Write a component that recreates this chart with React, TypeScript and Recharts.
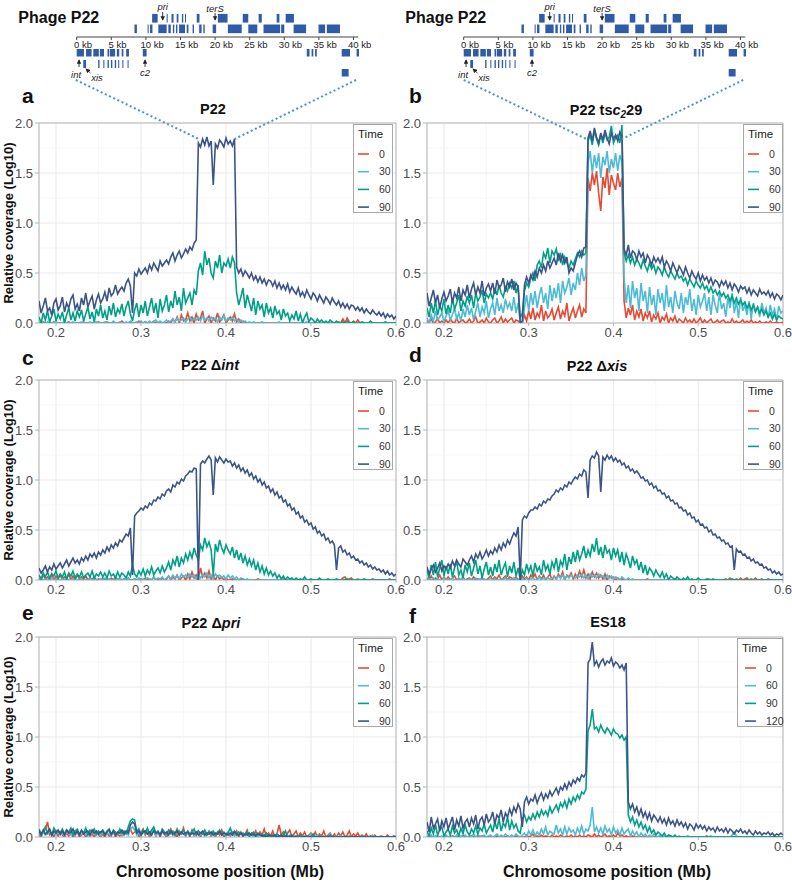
import React from "react";
import {
  LineChart,
  ComposedChart,
  Line,
  XAxis,
  YAxis,
  CartesianGrid,
  ReferenceArea,
  ReferenceLine,
} from "recharts";

const FONT = '"Liberation Sans", Arial, Helvetica, sans-serif';
const COLORS = ["#E64B35", "#4DBBD5", "#00A087", "#3C5488"];
const ZOOM_BLUE = "#4A90D9";
const GENE_BLUE = "#2F5BA7";

// chromosome position (Mb), shared by every coverage track
const POS = [
  0.18, 0.1825, 0.185, 0.1875, 0.19, 0.1925, 0.195, 0.1975, 0.2, 0.2025,
  0.205, 0.2075, 0.21, 0.2125, 0.215, 0.2175, 0.22, 0.2225, 0.225, 0.2275,
  0.23, 0.2325, 0.235, 0.2375, 0.24, 0.2425, 0.245, 0.2475, 0.25, 0.2525,
  0.255, 0.2575, 0.26, 0.2625, 0.265, 0.2675, 0.27, 0.2725, 0.275, 0.2775,
  0.28, 0.2825, 0.285, 0.2875, 0.29, 0.2925, 0.295, 0.2975, 0.3, 0.3025,
  0.305, 0.3075, 0.31, 0.3125, 0.315, 0.3175, 0.32, 0.3225, 0.325, 0.3275,
  0.33, 0.3325, 0.335, 0.3375, 0.34, 0.3425, 0.345, 0.3475, 0.35, 0.3525,
  0.355, 0.3575, 0.36, 0.3625, 0.365, 0.3675, 0.37, 0.3725, 0.375, 0.3775,
  0.38, 0.3825, 0.385, 0.3875, 0.39, 0.3925, 0.395, 0.3975, 0.4, 0.4025,
  0.405, 0.4075, 0.41, 0.4125, 0.415, 0.4175, 0.42, 0.4225, 0.425, 0.4275,
  0.43, 0.4325, 0.435, 0.4375, 0.44, 0.4425, 0.445, 0.4475, 0.45, 0.4525,
  0.455, 0.4575, 0.46, 0.4625, 0.465, 0.4675, 0.47, 0.4725, 0.475, 0.4775,
  0.48, 0.4825, 0.485, 0.4875, 0.49, 0.4925, 0.495, 0.4975, 0.5, 0.5025,
  0.505, 0.5075, 0.51, 0.5125, 0.515, 0.5175, 0.52, 0.5225, 0.525, 0.5275,
  0.53, 0.5325, 0.535, 0.5375, 0.54, 0.5425, 0.545, 0.5475, 0.55, 0.5525,
  0.555, 0.5575, 0.56, 0.5625, 0.565, 0.5675, 0.57, 0.5725, 0.575, 0.5775,
  0.58, 0.5825, 0.585, 0.5875, 0.59, 0.5925, 0.595, 0.5975, 0.6,
];

const X_TICKS = [0.2, 0.3, 0.4, 0.5, 0.6];
const X_MINOR = [0.25, 0.35, 0.45, 0.55];
const Y_TICKS = [0, 0.5, 1, 1.5, 2];
const Y_MINOR = [0.25, 0.75, 1.25, 1.75];

const TIMES_P22 = ["0", "30", "60", "90"];
const TIMES_ES18 = ["0", "60", "90", "120"];

// a: P22
const A_T0 = [
  0, 0, .01, 0, 0, 0, 0, .01, 0, 0,
  0, 0, 0, 0, .01, 0, 0, 0, 0, 0,
  0, .01, 0, 0, 0, 0, 0, 0, .01, 0,
  0, 0, .01, 0, 0, 0, 0, 0, 0, .02,
  0, 0, 0, .01, 0, 0, 0, .02, 0, 0,
  .01, 0, 0, 0, .02, 0, 0, .01, 0, 0,
  0, .02, 0, .04, .01, .06, 0, .08, .02, .03,
  .1, .02, .06, 0, .09, .03, .05, .12, 0, .04,
  .07, 0, .05, .02, .1, .01, .04, .08, 0, .03,
  .06, .02, .09, .01, .04, 0, .02, 0, 0, 0,
  0, 0, 0, 0, 0, 0, 0, 0, 0, 0,
  0, 0, 0, 0, 0, 0, 0, 0, 0, 0,
  0, 0, 0, 0, 0, 0, 0, 0, 0, 0,
  0, 0, 0, 0, 0, 0, 0, 0, 0, 0,
  0, .01, 0, .04, 0, .05, .01, 0, .02, 0,
  .03, 0, 0, 0, 0, 0, 0, 0, 0, 0,
  0, 0, 0, 0, 0, 0, 0, 0, 0,
];
const A_T30 = [
  0, .01, 0, 0, .01, 0, 0, 0, .01, 0,
  0, 0, .01, 0, 0, 0, .01, 0, 0, 0,
  .01, 0, 0, 0, .01, 0, 0, .01, 0, 0,
  0, .01, 0, 0, 0, .02, 0, 0, .01, 0,
  0, .01, 0, .02, 0, 0, .01, 0, .02, 0,
  .01, 0, .02, 0, .01, .03, 0, .02, 0, .01,
  .03, 0, .02, .04, .01, .05, .02, .03, .05, .01,
  .04, .06, .02, .05, .03, .06, .02, .07, .03, .05,
  .02, .06, .03, .05, .01, .06, .03, .07, .02, .05,
  .03, .06, .02, .04, .01, .03, 0, .02, 0, .01,
  0, .01, 0, 0, 0, .01, 0, 0, 0, 0,
  0, 0, 0, .01, 0, 0, 0, 0, 0, 0,
  0, 0, 0, 0, 0, 0, .01, 0, 0, 0,
  0, 0, 0, 0, 0, 0, 0, 0, 0, 0,
  0, 0, 0, 0, 0, 0, 0, 0, 0, 0,
  0, 0, 0, 0, 0, 0, 0, 0, 0, 0,
  0, 0, 0, 0, 0, 0, 0, 0, 0,
];
const A_T60 = [
  .06, 0, .1, .03, .12, .01, .07, .14, .02, .09,
  .04, .11, 0, .08, .15, .03, .1, .02, .12, .06,
  .13, .02, .09, .16, .04, .11, .01, .14, .07, .18,
  .05, .12, .03, .17, .08, .2, .06, .14, .1, .19,
  .07, .16, .22, .09, .02, .13, .2, .06, .18, .1,
  .22, .07, .16, .25, .1, .2, .05, .24, .12, .18,
  .28, .11, .22, .15, .32, .18, .26, .12, .35, .2,
  .25, .3, .18, .33, .28, .52, .6, .48, .72, .58,
  .65, .5, .45, .62, .55, .68, .5, .6, .57, .64,
  .55, .66, .6, .3, .18, .26, .35, .15, .28, .2,
  .12, .25, .08, .22, .14, .18, .06, .2, .1, .15,
  .05, .17, .09, .12, .03, .14, .07, .1, .02, .08,
  .04, .12, .02, .09, 0, .06, .1, .01, .05, .03,
  0, .04, .01, .03, 0, .02, 0, .03, .01, 0,
  .02, 0, 0, .01, 0, .02, 0, 0, .01, 0,
  0, 0, .01, 0, 0, 0, .02, 0, 0, 0,
  0, 0, 0, .01, 0, 0, 0, 0, 0,
];
const A_T90 = [
  .22, .1, .17, .25, .12, .15, .08, .2, .24, .13,
  .17, .26, .11, .2, .15, .24, .28, .14, .19, .12,
  .25, .18, .3, .16, .22, .27, .14, .23, .29, .2,
  .24, .31, .22, .35, .27, .3, .38, .29, .33, .36,
  .32, .4, .44, .37, .1, .5, .47, .54, .49, .52,
  .55, .5, .58, .53, .6, .56, .52, .62, .57, .6,
  .63, .59, .66, .7, .62, .68, .72, .65, .69, .74,
  .7, .76, .73, .8, .83, 1.8, 1.76, 1.84, 1.78, 1.86,
  1.77, 1.82, 1.38, 1.79, 1.75, 1.83, 1.8, 1.76, 1.85, 1.79,
  1.82, 1.77, 1.84, .56, .5, .54, .47, .52, .49, .45,
  .5, .43, .47, .41, .46, .4, .44, .38, .43, .42,
  .37, .42, .35, .4, .34, .38, .33, .39, .31, .36,
  .32, .29, .35, .27, .31, .26, .33, .28, .24, .3,
  .27, .22, .28, .24, .2, .26, .23, .19, .25, .21,
  .18, .22, .16, .2, .15, .19, .14, .18, .17, .13,
  .16, .12, .15, .1, .14, .11, .09, .13, .1, .08,
  .11, .07, .1, .05, .09, .06, .08, .04, .07,
];

// b: P22 tsc2 29
const B_T0 = [
  .02, 0, .04, 0, .01, .05, 0, .02, 0, .03,
  0, .04, .01, 0, .05, 0, .02, .03, 0, .01,
  .04, 0, .02, .06, 0, .01, .03, 0, .05, .01,
  0, .03, .05, 0, .02, .06, 0, .04, .01, .03,
  .05, 0, .03, .02, 0, 0, .08, .02, .12, .04,
  .15, .03, .1, .06, .18, .02, .12, .05, .08, .14,
  .03, .1, .16, .04, .12, .07, .2, .02, .09, .15,
  .05, .12, .18, .06, .14, .1, 1.45, 1.32, 1.5, 1.38,
  1.52, 1.3, 1.12, 1.46, 1.35, 1.55, 1.28, 1.48, 1.4, 1.33,
  1.5, 1.36, 1.45, .22, .05, .15, .08, .18, .03, .12,
  .06, .14, .02, .1, .05, .12, .01, .08, .04, .1,
  0, .06, .03, .09, 0, .05, .02, .07, 0, .04,
  .02, 0, .05, .01, .03, 0, .04, 0, .02, .05,
  0, .03, 0, .02, .04, 0, .01, .03, 0, .02,
  .03, 0, .01, 0, .04, 0, .02, 0, .01, .03,
  0, .02, 0, .03, 0, .01, 0, .02, 0, 0,
  .01, 0, .02, 0, 0, .01, 0, 0, .01,
];
const B_T30 = [
  .05, 0, .08, .02, .12, .03, .06, .1, .01, .07,
  .12, .03, .08, .15, .04, .1, .02, .14, .06, .18,
  .08, .15, .03, .12, .2, .06, .16, .1, .22, .05,
  .14, .2, .08, .25, .12, .18, .1, .24, .15, .2,
  .12, .26, .1, .2, 0, 0, .15, .28, .12, .3,
  .18, .32, .15, .28, .36, .2, .3, .14, .38, .22,
  .35, .25, .4, .2, .42, .3, .36, .45, .28, .4,
  .33, .5, .38, .55, .42, .48, 1.6, 1.72, 1.5, 1.68,
  1.55, 1.7, 1.45, 1.66, 1.58, 1.72, 1.5, 1.64, 1.55, 1.7,
  1.52, 1.68, 1.6, .45, .2, .38, .15, .42, .25, .35,
  .12, .4, .22, .32, .1, .36, .18, .28, .08, .34,
  .2, .3, .12, .38, .16, .26, .1, .32, .2, .14,
  .3, .1, .26, .18, .34, .12, .24, .08, .28, .16,
  .22, .3, .12, .26, .08, .28, .18, .1, .3, .14,
  .2, .06, .25, .15, .3, .1, .22, .05, .26, .12,
  .18, .08, .22, .04, .2, .12, .16, .06, .2, .1,
  .15, .05, .18, .08, .14, .03, .17, .1, .12,
];
const B_T60 = [
  .15, .06, .2, .1, .22, .08, .17, .12, .24, .09,
  .18, .1, .25, .14, .2, .28, .12, .22, .17, .27,
  .2, .28, .15, .3, .22, .26, .33, .2, .29, .25,
  .3, .24, .35, .28, .38, .3, .26, .36, .32, .4,
  .35, .42, .3, .38, .05, .1, .32, .4, .36, .45,
  .5, .42, .58, .62, .55, .7, .65, .75, .6, .72,
  .68, .74, .62, .7, .58, .66, .6, .55, .62, .58,
  .64, .7, .66, .72, .68, .7, 1.82, 1.88, 1.78, 1.92,
  1.84, 1.78, 1.88, 1.8, 1.9, 1.83, 1.86, 1.97, 1.8, 1.85,
  1.88, 1.8, 1.98, .7, .62, .68, .6, .66, .58, .64,
  .6, .55, .63, .57, .52, .6, .54, .58, .5, .56,
  .53, .48, .56, .5, .46, .52, .48, .44, .5, .45,
  .47, .42, .45, .38, .44, .4, .36, .42, .38, .35,
  .4, .34, .37, .31, .36, .3, .33, .28, .32, .27,
  .3, .25, .28, .22, .27, .2, .25, .19, .23, .18,
  .21, .15, .19, .13, .18, .11, .16, .1, .14, .08,
  .12, .06, .1, .04, .09, .03, .07, .05, .04,
];
const B_T90 = [
  .3, .17, .25, .33, .2, .28, .15, .24, .31, .22,
  .27, .34, .2, .3, .25, .36, .22, .33, .28, .38,
  .25, .34, .4, .28, .36, .3, .42, .27, .35, .39,
  .32, .4, .29, .43, .35, .38, .45, .31, .41, .36,
  .44, .33, .4, .36, 0, .02, .38, .46, .4, .48,
  .43, .52, .46, .55, .5, .58, .52, .62, .55, .6,
  .65, .58, .7, .62, .68, .6, .66, .5, .55, .52,
  .6, .68, .72, .66, .75, .76, 1.85, 1.92, 1.82, 1.95,
  1.86, 1.8, 1.9, 1.83, 1.93, 1.85, 1.79, 1.9, 1.84, 1.88,
  1.82, 1.91, 1.87, .74, .68, .78, .65, .72, .7, .63,
  .72, .66, .7, .6, .68, .64, .58, .66, .61, .65,
  .6, .66, .56, .62, .58, .52, .6, .55, .5, .57,
  .53, .48, .56, .5, .45, .52, .47, .44, .5, .42,
  .48, .43, .46, .4, .45, .38, .43, .41, .36, .42,
  .38, .42, .35, .4, .33, .39, .36, .31, .37, .34,
  .36, .3, .35, .28, .33, .3, .27, .34, .29, .31,
  .28, .32, .26, .3, .24, .29, .27, .23, .28,
];

// c: P22 Δint
const C_T0 = [
  .02, 0, .05, .01, .03, 0, .06, 0, .04, .01,
  .05, 0, .03, .01, .06, 0, .04, 0, .05, .01,
  .03, 0, .04, 0, .02, .01, .03, 0, .01, 0,
  .02, 0, .01, 0, .02, 0, .03, 0, .02, 0,
  .01, 0, .02, 0, 0, .01, 0, 0, .01, 0,
  .02, 0, .01, 0, .03, 0, .01, 0, .02, 0,
  .01, .04, 0, .03, .01, .05, 0, .02, .04, 0,
  .06, .01, .08, .02, .05, 0, .12, .03, .07, .02,
  .09, .01, .05, 0, .04, .01, .03, 0, .02, 0,
  0, .01, 0, 0, 0, 0, .01, 0, 0, 0,
  0, 0, 0, .01, 0, 0, 0, 0, 0, 0,
  0, 0, 0, 0, 0, .01, 0, 0, 0, 0,
  0, 0, 0, 0, 0, 0, 0, 0, 0, 0,
  0, 0, .01, 0, 0, 0, 0, 0, 0, 0,
  0, 0, 0, .02, .03, 0, .01, .02, 0, 0,
  .01, 0, 0, 0, 0, 0, 0, .01, 0, 0,
  0, 0, 0, 0, 0, .01, 0, 0, 0,
];
const C_T30 = [
  0, .02, 0, .01, 0, 0, .02, 0, .01, 0,
  0, .01, 0, .02, 0, 0, .01, 0, 0, .02,
  0, .01, 0, 0, .02, 0, .01, 0, 0, .01,
  0, .02, 0, .01, 0, 0, .01, 0, .02, 0,
  .01, 0, .02, 0, 0, .01, 0, .02, 0, .01,
  0, .02, .01, 0, .03, 0, .02, .01, .03, 0,
  .02, .04, .01, .05, .02, .04, .01, .06, .03, .05,
  .02, .06, .03, .05, .01, .06, .02, .05, .03, .07,
  .02, .05, .01, .06, .03, .05, .02, .04, .01, .05,
  .02, .04, .01, .03, 0, .02, .01, 0, .01, 0,
  0, 0, 0, 0, 0, 0, 0, 0, 0, 0,
  0, 0, 0, 0, 0, 0, 0, 0, 0, 0,
  0, 0, 0, 0, 0, 0, 0, 0, 0, 0,
  0, 0, 0, 0, 0, 0, 0, 0, 0, 0,
  0, 0, 0, 0, 0, 0, 0, 0, 0, 0,
  0, 0, 0, 0, 0, 0, 0, 0, 0, 0,
  0, 0, 0, 0, 0, 0, 0, 0, 0,
];
const C_T60 = [
  .05, .01, .07, .03, .08, .02, .06, .04, .09, .02,
  .06, .03, .08, .01, .07, .04, .09, .02, .06, .03,
  .08, .02, .05, .07, .03, .09, .02, .06, .04, .08,
  .03, .07, .02, .09, .04, .06, .02, .08, .03, .07,
  .05, .02, .08, .04, .15, .06, .03, .09, .05, .11,
  .04, .1, .06, .13, .05, .09, .12, .07, .14, .08,
  .12, .18, .1, .2, .15, .24, .13, .22, .17, .26,
  .2, .28, .22, .32, .25, .2, .35, .3, .42, .33,
  .38, .3, .05, .36, .28, .4, .32, .27, .35, .3,
  .26, .33, .22, .3, .2, .27, .17, .24, .15, .21,
  .14, .2, .1, .17, .08, .14, .06, .12, .05, .09,
  .04, .07, .02, .05, .01, .04, 0, .03, .01, .02,
  0, .02, 0, .01, 0, .03, 0, 0, .01, 0,
  0, 0, .02, 0, 0, 0, .01, 0, 0, 0,
  .01, 0, 0, 0, 0, .01, 0, 0, 0, 0,
  0, 0, 0, .01, 0, 0, 0, 0, 0, 0,
  0, 0, 0, 0, 0, 0, 0, 0, 0,
];
const C_T90 = [
  .12, .07, .1, .14, .08, .13, .1, .16, .11, .14,
  .17, .12, .16, .2, .14, .18, .22, .17, .2, .16,
  .22, .19, .24, .2, .26, .23, .27, .22, .28, .25,
  .3, .27, .33, .29, .35, .32, .37, .34, .4, .38,
  .42, .46, .44, .52, .05, .64, .67, .69, .72, .7,
  .74, .72, .77, .75, .8, .79, .83, .81, .86, .84,
  .89, .91, .88, .95, .93, .98, .96, 1.01, .99, 1.04,
  1.06, 1.09, 1.08, 1.12, 1.11, 0, 1.16, 1.19, 1.17, 1.21,
  1.24, 1.2, .85, 1.22, 1.18, 1.23, 1.2, 1.17, 1.21, 1.18,
  1.19, 1.14, 1.17, 1.12, 1.15, 1.09, 1.12, 1.07, 1.1, 1.04,
  1.07, 1.01, 1.04, .98, 1.01, .95, .98, .92, .94, .88,
  .91, .85, .88, .82, .84, .78, .8, .74, .76, .7,
  .72, .66, .68, .62, .64, .58, .6, .55, .57, .51,
  .53, .47, .49, .44, .46, .4, .42, .37, .39, .35,
  .1, .32, .34, .28, .3, .25, .27, .22, .24, .2,
  .21, .17, .19, .15, .17, .13, .15, .11, .13, .1,
  .11, .08, .1, .06, .09, .05, .07, .04, .06,
];

// d: P22 Δxis
const D_T0 = [
  .02, 0, .04, 0, .02, .01, .05, 0, .03, 0,
  .03, 0, .02, .04, 0, .02, 0, .03, 0, .01,
  .02, 0, .03, 0, .01, 0, .02, 0, 0, .02,
  .04, 0, .03, .01, .05, 0, .02, .04, 0, .03,
  .02, 0, .03, 0, 0, .04, .01, .03, 0, .05,
  .02, .06, 0, .04, .01, .05, 0, .03, .06, 0,
  .04, .01, .06, .02, .08, 0, .05, .03, .07, .01,
  .06, .02, .09, .03, .1, .02, .06, .01, .08, .03,
  .07, .02, .05, .01, .06, 0, .04, .02, .03, 0,
  .02, 0, .01, 0, 0, .01, 0, 0, 0, 0,
  0, 0, 0, 0, .01, 0, 0, 0, 0, 0,
  0, 0, 0, 0, 0, 0, 0, .01, 0, 0,
  0, 0, 0, 0, 0, 0, 0, 0, 0, 0,
  0, 0, 0, .01, 0, 0, 0, 0, 0, 0,
  0, .01, 0, .02, 0, 0, .01, 0, .02, 0,
  .01, .02, 0, .01, 0, .02, 0, 0, .01, 0,
  0, .01, 0, 0, 0, 0, 0, 0, 0,
];
const D_T30 = [
  0, .01, 0, .02, 0, .01, 0, 0, .02, 0,
  .01, 0, .02, 0, 0, .01, 0, .02, 0, 0,
  .01, 0, 0, .02, 0, .01, 0, .01, 0, 0,
  .02, 0, .01, 0, 0, .01, 0, .02, 0, .01,
  0, .02, 0, .01, 0, .01, 0, .02, 0, .01,
  .02, 0, .01, .03, 0, .02, .01, .03, 0, .02,
  .03, .01, .04, .02, .05, .01, .04, .02, .05, .03,
  .02, .05, .03, .06, .02, .05, .01, .06, .03, .05,
  .02, .06, .03, .04, .01, .05, .02, .04, .01, .03,
  .02, 0, .03, .01, 0, .02, 0, .01, 0, 0,
  0, 0, 0, 0, 0, 0, 0, 0, 0, 0,
  0, 0, 0, 0, 0, 0, 0, 0, 0, 0,
  0, 0, 0, 0, 0, 0, 0, 0, 0, 0,
  0, 0, 0, 0, 0, 0, 0, 0, 0, 0,
  0, 0, 0, 0, 0, 0, 0, 0, 0, 0,
  0, 0, 0, 0, 0, 0, 0, 0, 0, 0,
  0, 0, 0, 0, 0, 0, 0, 0, 0,
];
const D_T60 = [
  .1, .02, .15, .05, .18, .03, .12, .2, .04, .14,
  .06, .16, .03, .12, .19, .05, .1, .02, .15, .08,
  .17, .04, .12, .2, .06, .14, .02, .11, .18, .05,
  .13, .04, .16, .08, .2, .05, .12, .17, .03, .14,
  .07, .18, .04, .12, 0, .1, .05, .16, .08, .14,
  .04, .17, .09, .13, .05, .2, .1, .15, .06, .18,
  .12, .22, .08, .19, .14, .26, .1, .23, .16, .28,
  .18, .3, .2, .26, .34, .22, .3, .24, .36, .28,
  .42, .25, .33, .22, .35, .27, .3, .2, .32, .24,
  .3, .18, .28, .15, .26, .2, .12, .24, .16, .2,
  .1, .18, .07, .15, .05, .12, .09, .04, .1, .06,
  .03, .08, .02, .06, 0, .04, .02, 0, .03, .01,
  0, .02, 0, .03, 0, .01, 0, 0, .02, 0,
  0, 0, .01, 0, 0, .01, 0, 0, 0, 0,
  0, 0, 0, 0, .01, 0, 0, 0, 0, 0,
  0, 0, 0, 0, 0, 0, 0, 0, 0, 0,
  0, 0, 0, 0, 0, 0, 0, 0, 0,
];
const D_T90 = [
  .13, .06, .11, .15, .08, .12, .17, .09, .14, .11,
  .16, .12, .19, .14, .2, .16, .13, .21, .18, .15,
  .2, .24, .18, .26, .22, .28, .21, .25, .3, .24,
  .29, .26, .32, .28, .35, .3, .37, .33, .4, .36,
  .42, .47, .44, .53, 0, .6, .64, .62, .67, .7,
  .7, .73, .71, .76, .74, .79, .77, .81, .8, .84,
  .86, .9, .88, .92, .9, .95, .93, .98, .96, 1.0,
  1.03, 1.01, 1.06, 1.04, 1.1, 1.08, .82, 1.2, 1.24, 1.22,
  1.28, 1.24, .88, 1.23, 1.2, 1.25, 1.21, 1.24, 1.19, 1.22,
  1.18, 1.2, 1.15, 1.17, 1.12, 1.14, 1.09, 1.11, 1.07, 1.09,
  1.06, 1.02, 1.03, .99, 1.0, .95, .97, .92, .94, .89,
  .9, .86, .87, .82, .84, .79, .8, .76, .77, .72,
  .73, .69, .7, .65, .67, .62, .63, .58, .6, .55,
  .56, .52, .53, .48, .5, .45, .46, .42, .43, .39,
  .4, .36, .37, .33, .34, .1, .31, .28, .29, .25,
  .26, .22, .23, .19, .21, .17, .18, .15, .16, .12,
  .13, .1, .11, .07, .09, .06, .08, .05, .06,
];

// e: P22 Δpri
const E_T0 = [
  .03, 0, .05, .08, .15, .02, .04, 0, .06, .01,
  .05, .02, 0, .04, .01, .06, 0, .03, .05, 0,
  .02, .04, 0, .05, .01, .03, 0, .04, .02, 0,
  .03, 0, .04, .01, .02, .05, 0, .03, .01, .04,
  .02, .05, .06, .08, .03, .05, .07, 0, .04, .08,
  .02, .06, 0, .04, .07, .01, .05, 0, .06, .03,
  0, .04, .08, .02, .05, 0, .06, .03, .09, .01,
  .05, 0, .07, .02, .04, .06, 0, .05, .03, .02,
  .06, .01, .04, 0, .05, .02, .07, 0, .03, .05,
  .01, .04, .02, .06, 0, .05, .01, .03, .07, 0,
  .04, .01, .06, 0, .05, .02, .08, 0, .04, .01,
  .06, 0, .03, .12, .02, .05, 0, .04, .07, 0,
  .03, .06, 0, .04, .01, .05, 0, .02, .04, 0,
  .05, 0, .03, .01, .06, 0, .02, .04, 0, .03,
  0, .04, .01, .05, 0, .02, .06, 0, .03, .01,
  .04, 0, .02, 0, .03, 0, .01, 0, .02, 0,
  0, .01, 0, 0, .02, 0, 0, .01, 0,
];
const E_T30 = [
  .04, .01, .05, .02, .03, .06, .01, .04, .02, .05,
  .02, .04, .01, .05, .03, .02, .04, .01, .05, .02,
  .03, .05, .02, .04, .01, .05, .03, .02, .04, .01,
  .05, .02, .03, .04, .01, .05, .02, .03, .05, .01,
  .03, .05, .02, .08, .1, .07, .02, .04, .01, .05,
  .03, .07, .02, .05, .08, .01, .04, .02, .05, .03,
  .02, .05, .03, .04, .01, .06, .02, .04, .03, .01,
  .04, .02, .05, .01, .03, .06, .02, .04, .01, .03,
  .05, .02, .04, .01, .03, .05, .02, .03, .01, .04,
  .02, .05, .01, .03, .02, .04, .01, .02, .03, 0,
  .02, 0, .03, .01, .02, 0, .01, .03, 0, .02,
  0, .01, .04, 0, .02, 0, .01, 0, .02, 0,
  .01, 0, 0, .02, 0, .01, 0, 0, .03, 0,
  0, .02, 0, 0, .01, 0, 0, .03, 0, 0,
  .01, 0, .02, 0, 0, 0, .01, 0, 0, 0,
  0, 0, 0, .01, 0, 0, 0, .02, 0, 0,
  0, 0, 0, 0, 0, 0, 0, 0, .01,
];
const E_T60 = [
  .08, .03, .06, .1, .04, .07, .02, .09, .05, .06,
  .04, .08, .03, .07, .05, .09, .02, .06, .08, .03,
  .06, .04, .09, .02, .07, .05, .08, .03, .06, .04,
  .07, .03, .06, .08, .02, .07, .05, .03, .08, .04,
  .06, .03, .1, .16, .18, .17, .05, .08, .03, .07,
  .04, .09, .03, .07, .1, .04, .06, .02, .08, .05,
  .03, .07, .04, .06, .02, .08, .03, .05, .07, .02,
  .06, .03, .05, .08, .02, .06, .04, .03, .07, .02,
  .05, .03, .06, .02, .04, .07, .03, .05, .02, .04,
  .09, .03, .06, .02, .05, .03, .04, .02, .05, .01,
  .03, .05, .01, .04, .02, .03, 0, .04, .01, .02,
  .02, 0, .03, .01, 0, .02, .06, 0, .01, .02,
  0, .01, 0, .02, 0, 0, .01, 0, 0, .03,
  0, 0, .01, 0, 0, 0, 0, .02, 0, 0,
  0, 0, 0, 0, 0, 0, 0, 0, 0, 0,
  0, 0, 0, 0, 0, 0, 0, 0, 0, 0,
  0, 0, 0, 0, 0, 0, 0, 0, 0,
];
const E_T90 = [
  .06, .02, .07, .03, .05, .08, .02, .06, .04, .07,
  .03, .06, .02, .07, .04, .05, .08, .03, .06, .02,
  .07, .03, .05, .06, .02, .07, .04, .06, .03, .05,
  .06, .02, .05, .07, .03, .06, .02, .05, .04, .07,
  .03, .06, .04, .12, .15, .13, .04, .06, .02, .05,
  .06, .03, .05, .02, .06, .04, .05, .02, .06, .03,
  .05, .02, .06, .03, .04, .06, .02, .05, .03, .04,
  .05, .02, .04, .03, .05, .02, .04, .06, .02, .04,
  .03, .05, .02, .04, .03, .05, .02, .04, .03, .02,
  .04, .02, .05, .03, .02, .04, .01, .03, .02, .04,
  .02, .03, .01, .03, .02, .01, .02, 0, .02, .01,
  .01, .02, 0, .01, .02, 0, .01, 0, 0, .01,
  0, 0, 0, 0, 0, 0, 0, 0, 0, 0,
  0, 0, 0, 0, 0, 0, 0, 0, 0, 0,
  0, 0, 0, 0, 0, 0, 0, 0, 0, 0,
  0, 0, 0, 0, 0, 0, 0, 0, 0, 0,
  0, 0, 0, 0, 0, 0, 0, 0, 0,
];

// f: ES18
const F_T0 = [
  0, .01, 0, 0, 0, .01, 0, 0, 0, 0,
  0, 0, .01, 0, 0, 0, 0, .01, 0, 0,
  0, .01, 0, 0, 0, 0, .01, 0, 0, 0,
  0, 0, 0, .01, 0, 0, 0, 0, .01, 0,
  0, 0, .01, 0, 0, 0, 0, .02, 0, .01,
  .03, 0, .01, 0, .02, 0, .01, 0, 0, .02,
  0, .01, 0, .02, 0, 0, .01, 0, .02, 0,
  .01, 0, .02, 0, .01, 0, .02, .01, 0, .03,
  0, .02, 0, .01, .03, 0, .01, 0, .02, 0,
  .04, .01, .02, 0, .01, 0, 0, .01, 0, 0,
  0, 0, 0, 0, 0, 0, 0, 0, 0, 0,
  0, 0, 0, 0, 0, 0, 0, 0, 0, 0,
  0, 0, 0, 0, 0, 0, 0, 0, 0, 0,
  0, 0, .01, 0, 0, 0, 0, 0, 0, 0,
  0, 0, 0, 0, 0, 0, 0, 0, 0, 0,
  0, 0, 0, 0, 0, 0, 0, 0, 0, 0,
  0, 0, 0, 0, 0, 0, 0, 0, 0,
];
const F_T60 = [
  .01, 0, .02, 0, .01, 0, 0, .01, 0, .02,
  0, .01, 0, 0, .02, 0, .01, 0, .02, 0,
  .01, 0, .03, 0, .02, .01, 0, .02, 0, .01,
  .02, 0, .01, .03, 0, .02, 0, .03, .01, 0,
  .02, 0, .03, .01, 0, .02, .04, 0, .06, .02,
  .07, .01, .05, .02, .08, .03, .1, .02, .06, .04,
  .03, .12, .04, .08, .02, .1, .03, .09, .05, .07,
  .02, .09, .04, .11, .03, .08, .06, .12, .3, .05,
  .1, .04, .09, .03, .11, .05, .08, .02, .1, .04,
  .07, .02, .09, .03, .06, .08, .01, .06, .02, .05,
  0, .04, .01, .03, 0, .02, 0, .03, .01, 0,
  .02, 0, .01, 0, 0, .01, 0, 0, 0, .01,
  0, 0, 0, .01, 0, 0, 0, 0, 0, 0,
  0, 0, 0, 0, .01, 0, 0, 0, 0, 0,
  0, 0, 0, 0, .02, .05, .01, 0, 0, 0,
  0, 0, 0, 0, 0, 0, 0, 0, 0, 0,
  0, 0, 0, 0, 0, 0, 0, 0, 0,
];
const F_T90 = [
  .06, .01, .09, .03, .12, .02, .07, .1, .01, .05,
  .08, .02, .11, .04, .07, .01, .09, .03, .12, .05,
  .02, .08, .04, .11, .03, .09, .06, .13, .04, .08,
  .12, .05, .15, .08, .18, .06, .14, .1, .2, .07,
  .16, .09, .13, .06, .04, .18, .22, .15, .2, .17,
  .23, .18, .25, .2, .27, .22, .26, .21, .3, .24,
  .28, .32, .26, .34, .3, .36, .29, .38, .33, .4,
  .36, .42, .38, .45, .43, .48, 1.06, 1.12, 1.28, 1.08,
  1.1, 1.05, 1.12, 1.07, 1.04, 1.09, 1.06, 1.02, 1.08, 1.04,
  1.03, .99, 1.02, .97, 1.0, .22, .15, .2, .12, .17,
  .1, .15, .08, .12, .05, .1, .04, .07, .02, .05,
  .03, .01, .04, 0, .02, .01, 0, .02, 0, 0,
  0, 0, 0, 0, 0, 0, 0, 0, 0, 0,
  0, 0, 0, 0, 0, 0, 0, 0, 0, 0,
  0, 0, 0, 0, 0, 0, 0, 0, 0, 0,
  0, 0, 0, 0, 0, 0, 0, 0, 0, 0,
  0, 0, 0, 0, 0, 0, 0, 0, 0,
];
const F_T120 = [
  .15, .05, .2, .09, .13, .18, .06, .16, .1, .19,
  .08, .14, .2, .07, .17, .11, .21, .09, .15, .18,
  .1, .19, .13, .22, .08, .17, .2, .12, .23, .15,
  .18, .25, .13, .22, .19, .27, .15, .24, .2, .28,
  .22, .3, .25, .33, .28, .1, .35, .4, .33, .38,
  .36, .42, .34, .4, .44, .37, .43, .39, .46, .41,
  .45, .49, .43, .5, .47, .53, .48, .55, .51, .57,
  .54, .59, .56, .62, .6, .64, 1.74, 1.78, 1.95, 1.72,
  1.76, 1.7, 1.75, 1.78, 1.72, 1.76, 1.74, 1.79, 1.71, 1.75,
  1.73, 1.69, 1.72, 1.67, 1.74, .35, .28, .33, .25, .3,
  .22, .28, .2, .25, .18, .24, .16, .22, .19, .15,
  .2, .14, .18, .12, .19, .13, .16, .11, .17, .12,
  .15, .1, .14, .08, .13, .11, .07, .13, .09, .12,
  .08, .11, .06, .1, .07, .09, .05, .1, .06, .08,
  .05, .09, .04, .08, .06, .03, .07, .05, .08, .04,
  .06, .03, .07, .04, .02, .06, .03, .05, .02, .04,
  .03, .05, .02, .04, .01, .03, .02, .04, .02,
];

// phage P22 genome map, gene extents in kb
const KB_TICKS = [0, 5, 10, 15, 20, 25, 30, 35, 40];
const GENES_ROW1 = [
  [10.9, 11.7], [13.0, 13.15], [13.7, 14.0], [14.45, 14.7], [15.2, 15.4],
  [15.65, 15.8], [17.35, 17.75], [20.4, 21.8], [24.0, 24.8], [26.3, 26.75],
  [28.9, 29.3], [30.2, 31.4],
];
const GENES_ROW2 = [
  [8.35, 8.7], [10.25, 10.4], [10.6, 10.95], [11.8, 13.0], [13.25, 13.6],
  [13.9, 14.1], [14.35, 14.55], [14.8, 15.65], [15.9, 16.15], [16.75, 16.95],
  [17.7, 18.05], [18.3, 18.5], [19.65, 20.15], [21.85, 23.85], [24.8, 26.1],
  [27.0, 29.4], [29.55, 30.0], [31.35, 33.15], [34.95, 35.9], [36.15, 38.05],
];
const GENES_ROW3 = [
  [0, 1.05], [1.35, 2.15], [2.4, 3.2], [3.35, 3.95], [4.45, 4.7],
  [4.8, 5.55], [5.8, 6.15], [6.5, 6.75], [7.15, 7.55], [9.55, 10.1],
  [33.25, 33.65], [33.95, 34.2], [34.45, 34.7], [38.3, 39.5], [40.45, 40.8],
];
const GENES_ROW4 = [
  [0.95, 1.35], [3.1, 3.3], [3.85, 4.0], [4.45, 4.65], [4.95, 5.15],
  [5.5, 5.7], [6.0, 6.15], [6.6, 6.75], [7.35, 7.5],
];
const GENES_ROW5 = [[38.3, 39.3]];

// dashed zoom guides: map ends -> phage block (Mb, log10 coverage)
const ZOOM_GUIDES = [
  [{ x: 0.2234, y: 2.43 }, { x: 0.368, y: 1.84 }],
  [{ x: 0.553, y: 2.43 }, { x: 0.41, y: 1.84 }],
];

const LEFT = { x: 0, w: 410, ml: 9, mr: 14, legendRight: 393 };
const RIGHT = { x: 390, w: 402, ml: 7, mr: 9, legendRight: 783 };
const TOP = { y: 70, h: 273, mt: 53 };
const MID = { y: 360, h: 240, mt: 20 };
const BOT = { y: 617, h: 240, mt: 20 };

const PANELS = [
  { letter: "a", col: LEFT, row: TOP, series: [A_T0, A_T30, A_T60, A_T90], times: TIMES_P22, guides: true },
  { letter: "b", col: RIGHT, row: TOP, series: [B_T0, B_T30, B_T60, B_T90], times: TIMES_P22, guides: true },
  { letter: "c", col: LEFT, row: MID, series: [C_T0, C_T30, C_T60, C_T90], times: TIMES_P22, guides: false },
  { letter: "d", col: RIGHT, row: MID, series: [D_T0, D_T30, D_T60, D_T90], times: TIMES_P22, guides: false },
  { letter: "e", col: LEFT, row: BOT, series: [E_T0, E_T30, E_T60, E_T90], times: TIMES_P22, guides: false },
  { letter: "f", col: RIGHT, row: BOT, series: [F_T0, F_T60, F_T90, F_T120], times: TIMES_ES18, guides: false },
];

const KB_PX = 281.6 / 40.7;
const kbX = (kb: number, dx: number) => dx + 76.7 + kb * KB_PX;

function CoveragePanel({ p }: { p: any }) {
  const rows = POS.map((x, i) => ({
    x,
    s0: p.series[0][i],
    s1: p.series[1][i],
    s2: p.series[2][i],
    s3: p.series[3][i],
  }));
  return (
    <div style={{ position: "absolute", left: p.col.x, top: p.row.y }}>
      <LineChart
        width={p.col.w}
        height={p.row.h}
        data={rows}
        margin={{ top: p.row.mt, right: p.col.mr, bottom: 0, left: p.col.ml }}
      >
        <CartesianGrid stroke="#E6E6E6" strokeWidth={0.9} />
        <CartesianGrid
          stroke="#F2F2F2"
          strokeWidth={0.6}
          horizontalValues={Y_MINOR}
          verticalValues={X_MINOR}
        />
        <XAxis
          dataKey="x"
          type="number"
          domain={[0.18, 0.6]}
          ticks={X_TICKS}
          allowDataOverflow
          tickFormatter={(v: number) => v.toFixed(1)}
          axisLine={false}
          tickLine={{ stroke: "#B3B3B3" }}
          tickSize={3}
          tickMargin={2}
          height={20}
          tick={{ fontSize: 13, fill: "#4D4D4D" }}
        />
        <YAxis
          type="number"
          domain={[0, 2]}
          ticks={Y_TICKS}
          allowDataOverflow
          tickFormatter={(v: number) => v.toFixed(1)}
          axisLine={false}
          tickLine={{ stroke: "#B3B3B3" }}
          tickSize={4}
          tickMargin={2}
          width={30}
          tick={{ fontSize: 13, fill: "#4D4D4D" }}
        />
        <ReferenceArea x1={0.18} x2={0.6} y1={0} y2={2} fill="none" stroke="#B8B8B8" strokeWidth={1} />
        {["s0", "s1", "s2", "s3"].map((k, i) => (
          <Line
            key={k}
            dataKey={k}
            type="linear"
            stroke={COLORS[i]}
            strokeWidth={1.6}
            strokeLinejoin="miter"
            dot={false}
            isAnimationActive={false}
          />
        ))}
        {p.guides &&
          ZOOM_GUIDES.map((seg, i) => (
            <ReferenceLine
              key={i}
              segment={seg}
              stroke={ZOOM_BLUE}
              strokeWidth={2}
              strokeDasharray="2 2.6"
              ifOverflow="visible"
            />
          ))}
      </LineChart>
    </div>
  );
}

function KbTick(props: any) {
  const { x, y, payload } = props;
  const n = String(payload.value);
  return (
    <text x={x - n.length * 2.7} y={y} dy="0.71em" fontSize={9.5} fill="#222">
      {n} kb
    </text>
  );
}

function GeneMap({ dx }: { dx: number }) {
  const ticksData = KB_TICKS.map((kb) => ({ kb, lane: 0 }));
  const box = (g: number[], y1: number, y2: number, key: string) => (
    <ReferenceArea
      key={key}
      x1={g[0]}
      x2={g[1]}
      y1={y1}
      y2={y2}
      fill={GENE_BLUE}
      fillOpacity={1}
      stroke="none"
      ifOverflow="visible"
    />
  );
  return (
    <>
      <div style={{ position: "absolute", left: dx, top: 0 }}>
        <ComposedChart
          width={396}
          height={52}
          data={ticksData}
          margin={{ top: 12, right: 37.7, bottom: 0, left: 76.7 }}
        >
          <XAxis
            dataKey="kb"
            type="number"
            domain={[0, 40.7]}
            allowDataOverflow
            ticks={KB_TICKS}
            height={15}
            axisLine={{ stroke: "#444" }}
            tickLine={{ stroke: "#444" }}
            tickSize={3}
            tickMargin={1}
            tick={<KbTick />}
          />
          <YAxis type="number" domain={[0, 2.6]} allowDataOverflow hide />
          <Line dataKey="lane" stroke="none" dot={false} isAnimationActive={false} />
          {GENES_ROW1.map((g, i) => box(g, 1.5, 2.4, "r1" + i))}
          {GENES_ROW2.map((g, i) => box(g, 0.4, 1.3, "r2" + i))}
        </ComposedChart>
      </div>
      <div style={{ position: "absolute", left: dx, top: 46 }}>
        <ComposedChart
          width={396}
          height={34}
          data={ticksData}
          margin={{ top: 0, right: 37.7, bottom: 0, left: 76.7 }}
        >
          <XAxis dataKey="kb" type="number" domain={[0, 40.7]} allowDataOverflow hide />
          <YAxis type="number" domain={[0, 3.4]} allowDataOverflow hide />
          <Line dataKey="lane" stroke="none" dot={false} isAnimationActive={false} />
          {GENES_ROW3.map((g, i) => box(g, 2.35, 3.1, "r3" + i))}
          {GENES_ROW4.map((g, i) => box(g, 1.2, 2.0, "r4" + i))}
          {GENES_ROW5.map((g, i) => box(g, 0.35, 1.1, "r5" + i))}
        </ComposedChart>
      </div>
    </>
  );
}

function MapLabels({ dx }: { dx: number }) {
  const pri = kbX(12.43, dx);
  const ter = kbX(20.0, dx);
  const int = kbX(0.34, dx);
  const c2 = kbX(9.88, dx);
  const lab = { fontSize: 9.5, fontStyle: "italic" as const, fill: "#222", textAnchor: "middle" as const };
  return (
    <g>
      <text x={dx + 18.3} y={22.7} fontSize={16} fontWeight="bold" fill="#111">
        Phage P22
      </text>
      <text x={pri} y={9.5} {...lab}>pri</text>
      <line x1={pri} x2={pri} y1={12} y2={20} stroke="#222" strokeWidth={0.9} markerEnd="url(#arr)" />
      <text x={ter} y={11.5} {...lab}>terS</text>
      <line x1={ter} x2={ter} y1={13} y2={20} stroke="#222" strokeWidth={0.9} markerEnd="url(#arr)" />
      <line x1={int} x2={int} y1={67} y2={60} stroke="#222" strokeWidth={0.9} markerEnd="url(#arr)" />
      <text x={int - 3} y={77.5} {...lab}>int</text>
      <line x1={dx + 90.5} x2={dx + 86} y1={73} y2={69} stroke="#222" strokeWidth={0.9} markerEnd="url(#arr)" />
      <text x={dx + 97} y={80.5} {...lab}>xis</text>
      <line x1={c2} x2={c2} y1={67} y2={60} stroke="#222" strokeWidth={0.9} markerEnd="url(#arr)" />
      <text x={c2} y={75.5} {...lab}>c2</text>
    </g>
  );
}

function LegendBox({ right, top, labels }: { right: number; top: number; labels: string[] }) {
  const wide = labels[3].length > 2;
  const w = wide ? 46 : 40;
  const left = right - w;
  const lx = wide ? 8 : 5;
  const tx = wide ? 29 : 26;
  return (
    <g>
      <rect x={left + 0.5} y={top + 0.5} width={w - 1} height={88} fill="#fff" stroke="#A8A8A8" />
      <text x={left + 5} y={top + 14} fontSize={11.5} fill="#222">
        Time
      </text>
      {labels.map((l, i) => {
        const cy = top + 30 + i * 17.7;
        return (
          <g key={l}>
            <line x1={left + lx} x2={left + lx + 11} y1={cy} y2={cy} stroke={COLORS[i]} strokeWidth={1.6} />
            <text x={left + tx} y={cy + 3.7} fontSize={10.5} fill="#333">
              {l}
            </text>
          </g>
        );
      })}
    </g>
  );
}

const TITLE = { fontSize: 14.5, fontWeight: "bold" as const, fill: "#111", textAnchor: "middle" as const };
const LETTER = { fontSize: 21, fontWeight: "bold" as const, fill: "#111" };
const AXIS_TITLE = { fontSize: 13, fontWeight: "bold" as const, fill: "#111", textAnchor: "middle" as const };

export default function App() {
  return (
    <div
      style={{
        position: "absolute",
        left: 0,
        top: 0,
        width: 792,
        height: 882,
        background: "#fff",
        fontFamily: FONT,
        overflow: "hidden",
      }}
    >
      {PANELS.map((p) => (
        <CoveragePanel key={p.letter} p={p} />
      ))}
      <GeneMap dx={0} />
      <GeneMap dx={387} />
      <svg
        width={792}
        height={882}
        style={{ position: "absolute", left: 0, top: 0, pointerEvents: "none", fontFamily: FONT }}
      >
        <defs>
          <marker id="arr" viewBox="0 0 6 6" refX="5" refY="3" markerWidth="5" markerHeight="5" orient="auto">
            <path d="M0,0 L6,3 L0,6 z" fill="#222" />
          </marker>
        </defs>
        <MapLabels dx={0} />
        <MapLabels dx={387} />

        {PANELS.map((p) => (
          <LegendBox key={p.letter} right={p.col.legendRight} top={p.row.y + p.row.mt + 1} labels={p.times} />
        ))}

        <text x={22} y={103} {...LETTER}>a</text>
        <text x={409} y={103} {...LETTER}>b</text>
        <text x={22} y={365} {...LETTER}>c</text>
        <text x={409} y={362} {...LETTER}>d</text>
        <text x={22} y={620} {...LETTER}>e</text>
        <text x={409} y={623} {...LETTER}>f</text>

        <text x={213} y={114} {...TITLE}>P22</text>
        <text x={606} y={115} {...TITLE}>
          P22 ts<tspan fontStyle="italic">c</tspan>
          <tspan fontStyle="italic" fontSize={10} dy={3}>2</tspan>
          <tspan dy={-3}>29</tspan>
        </text>
        <text x={210} y={370} {...TITLE}>
          P22 Δ<tspan fontStyle="italic">int</tspan>
        </text>
        <text x={597} y={371} {...TITLE}>
          P22 Δ<tspan fontStyle="italic">xis</tspan>
        </text>
        <text x={211} y={628} {...TITLE}>
          P22 Δ<tspan fontStyle="italic">pri</tspan>
        </text>
        <text x={608} y={627} {...TITLE}>ES18</text>

        {[223, 480, 737].map((cy) => (
          <text key={cy} transform={`translate(12.5, ${cy}) rotate(-90)`} {...AXIS_TITLE}>
            Relative coverage (Log10)
          </text>
        ))}
        <text x={220} y={877} fontSize={16} fontWeight="bold" fill="#111" textAnchor="middle">
          Chromosome position (Mb)
        </text>
        <text x={607} y={877} fontSize={16} fontWeight="bold" fill="#111" textAnchor="middle">
          Chromosome position (Mb)
        </text>
      </svg>
    </div>
  );
}
